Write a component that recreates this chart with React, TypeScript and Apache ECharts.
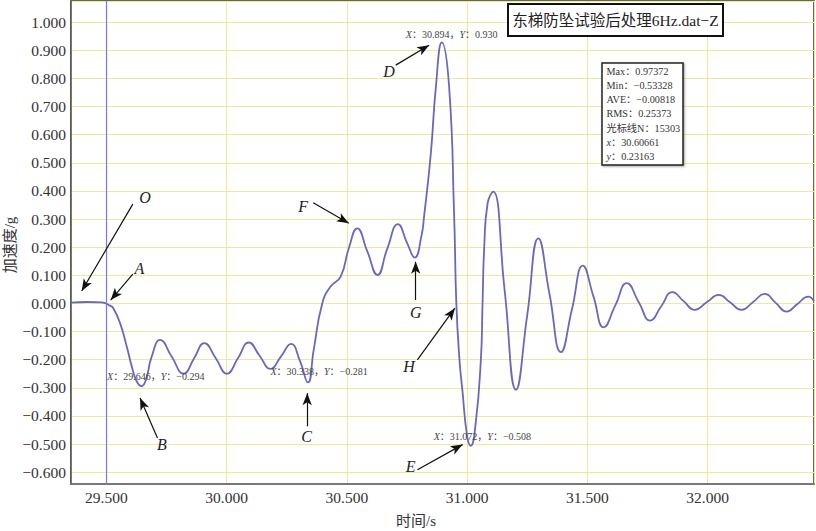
import React, { useEffect, useRef } from 'react';
import * as echarts from 'echarts';

// ---- data ----
const times = [
  29.353, 29.42, 29.48, 29.515, 29.529, 29.557, 29.585, 29.606, 29.625, 29.646,
  29.665, 29.688, 29.724, 29.772, 29.821, 29.865, 29.907, 29.955, 30.001, 30.047,
  30.092, 30.137, 30.182, 30.225, 30.268, 30.305, 30.338, 30.362, 30.3975, 30.432,
  30.474, 30.508, 30.543, 30.585, 30.627, 30.668, 30.7125, 30.75, 30.782, 30.81,
  30.821, 30.849, 30.87, 30.8945, 30.925, 30.946, 30.955, 30.968, 30.98, 31.0,
  31.015, 31.035, 31.057, 31.064, 31.071, 31.085, 31.108, 31.156, 31.203, 31.25,
  31.296, 31.343, 31.39, 31.436, 31.481, 31.525, 31.568, 31.616, 31.664, 31.713,
  31.761, 31.807, 31.853, 31.9, 31.946, 31.996, 32.046, 32.093, 32.14, 32.189,
  32.237, 32.283, 32.328, 32.373, 32.418, 32.442,
];
const values = [
  0.003, 0.005, 0.004, -0.008, -0.017, -0.07, -0.154, -0.225, -0.275, -0.294,
  -0.27, -0.19, -0.13, -0.19, -0.25, -0.195, -0.141, -0.195, -0.25, -0.195,
  -0.139, -0.186, -0.233, -0.19, -0.144, -0.205, -0.281, -0.165, 0.0, 0.06,
  0.095, 0.196, 0.267, 0.185, 0.101, 0.195, 0.282, 0.215, 0.163, 0.24,
  0.31, 0.533, 0.77, 0.928, 0.77, 0.308, 0.0, -0.2, -0.307, -0.473,
  -0.506, -0.43, -0.2, 0.0, 0.2, 0.356, 0.397, 0.045, -0.307, -0.04,
  0.231, 0.03, -0.173, -0.02, 0.134, 0.025, -0.085, -0.007, 0.072, 0.005,
  -0.061, -0.01, 0.04, 0.008, -0.023, 0.004, 0.03, 0.004, -0.023, 0.005,
  0.034, 0.002, -0.029, -0.002, 0.024, 0.008,
];

const cursorX = 29.5;

const letterNames = ['O', 'A', 'B', 'C', 'D', 'E', 'F', 'G', 'H'];
const letterPos = [
  [29.661, 0.375], [29.6375, 0.125], [29.731, -0.502], [30.332, -0.474], [30.675, 0.823],
  [30.765, -0.58], [30.318, 0.346], [30.786, -0.034], [30.758, -0.225],
];
const arrowFrom = [
  [29.61, 0.353], [29.61, 0.104], [29.7125, -0.4785], [30.335, -0.437], [30.703, 0.847],
  [30.7933, -0.591], [30.36, 0.358], [30.786, 0.012], [30.793, -0.2006],
];
const arrowTo = [
  [29.3975, 0.044], [29.518, 0.012], [29.64, -0.3365], [30.335, -0.319], [30.8417, 0.918],
  [30.981, -0.502], [30.508, 0.285], [30.786, 0.148], [30.949, -0.017],
];

const readoutX = [29.646, 30.338, 30.894, 31.072];
const readoutY = [-0.294, -0.281, 0.93, -0.508];
const readoutPos = [[29.503, -0.261], [30.182, -0.243], [30.745, 0.957], [30.861, -0.474]];

const titleText = '东梯防坠试验后处理6Hz.dat−Z';
const xName = '时间/s';
const yName = '加速度/g';
const infoLines = [
  ['Max', '0.97372'],
  ['Min', '−0.53328'],
  ['AVE', '−0.00818'],
  ['RMS', '0.25373'],
  ['光标线N', '15303'],
  ['x', '30.60661'],
  ['y', '0.23163'],
];

const FONT = "'Liberation Serif', 'Times New Roman', 'Noto Sans CJK SC', serif";

const fmt3 = (v: number) => {
  const r = Math.round(v * 1000) / 1000;
  if (Math.abs(r) < 1e-9) return '0.000';
  return (r < 0 ? '−' : '') + Math.abs(r).toFixed(3);
};

function buildOption() {
  const lineData = times.map((t, i) => [t, values[i]]);

  const arrows = arrowFrom.map((f, i) => [
    { coord: f, symbol: 'none' },
    { coord: arrowTo[i], symbol: 'arrow', symbolSize: [7, 12] },
  ]);

  const letterPoints = letterNames.map((n, i) => ({
    name: n,
    coord: letterPos[i],
    label: {
      show: true,
      position: 'inside',
      formatter: n,
      fontFamily: FONT,
      fontStyle: 'italic',
      fontSize: 16,
      color: '#222',
    },
  }));

  const readouts = readoutX.map((x, i) => ({
    name: 'r' + i,
    coord: readoutPos[i],
    label: {
      show: true,
      position: 'right',
      distance: 0,
      formatter: '{i|X}：' + x.toFixed(3) + '，{i|Y}：' + fmt3(readoutY[i]),
      fontFamily: FONT,
      fontSize: 10,
      color: '#444',
      rich: {
        i: { fontFamily: FONT, fontSize: 10, fontStyle: 'italic', color: '#444' },
      },
    },
  }));

  const infoTexts = infoLines.map((l, i) => ({
    type: 'text',
    z: 101,
    x: 606.5,
    y: 71 + i * 14.3,
    style: {
      text: l[0].length === 1 ? '{i|' + l[0] + '}：' + l[1] : l[0] + '：' + l[1],
      fontFamily: FONT,
      fontSize: 10.2,
      fill: '#333',
      align: 'left',
      verticalAlign: 'middle',
      textAlign: 'left',
      textVerticalAlign: 'middle',
      rich: { i: { fontFamily: FONT, fontSize: 10.2, fontStyle: 'italic', fill: '#333', color: '#333' } },
    },
  }));

  return {
    animation: false,
    backgroundColor: '#ffffff',
    grid: {
      left: 71,
      right: 2,
      top: 1,
      bottom: 47,
      show: true,
      borderColor: '#333',
      borderWidth: 1.5,
      backgroundColor: 'transparent',
      containLabel: false,
      outerBoundsMode: 'none',
    },
    xAxis: {
      type: 'value',
      min: 29.353,
      max: 32.442,
      minInterval: 0.5,
      maxInterval: 0.5,
      splitNumber: 6,
      axisLine: { show: true, onZero: false, lineStyle: { color: '#777', width: 2 } },
      axisTick: { show: false },
      axisLabel: {
        showMinLabel: false,
        showMaxLabel: false,
        formatter: fmt3,
        fontFamily: FONT,
        fontSize: 15.5,
        color: '#333',
        margin: 6,
      },
      splitLine: { show: true, lineStyle: { color: '#ecec98', width: 1 } },
    },
    yAxis: {
      type: 'value',
      min: -0.642,
      max: 1.075,
      minInterval: 0.1,
      maxInterval: 0.1,
      splitNumber: 17,
      axisLine: { show: true, onZero: false, lineStyle: { color: '#555', width: 1.5 } },
      axisTick: { show: false },
      axisLabel: {
        showMinLabel: false,
        showMaxLabel: false,
        formatter: fmt3,
        fontFamily: FONT,
        fontSize: 15.5,
        color: '#333',
        margin: 5,
      },
      splitLine: { show: true, lineStyle: { color: '#ecec98', width: 1 } },
    },
    series: [
      {
        type: 'line',
        data: lineData,
        smooth: 0.5,
        showSymbol: false,
        symbol: 'none',
        silent: true,
        lineStyle: { color: '#6868bd', width: 1.8 },
        z: 3,
        markLine: {
          silent: true,
          animation: false,
          symbol: ['none', 'none'],
          label: { show: false },
          lineStyle: { color: '#111', width: 1.2, type: 'solid' },
          emphasis: { disabled: true },
          data: [
            { xAxis: cursorX, lineStyle: { color: '#7a7ad8', width: 1.2, type: 'solid', opacity: 1 } },
            ...arrows,
          ],
        },
        markPoint: {
          silent: true,
          animation: false,
          symbol: 'circle',
          symbolSize: 0,
          itemStyle: { color: 'transparent' },
          data: [...letterPoints, ...readouts],
        },
      },
    ],
    graphic: [
      {
        type: 'rect',
        z: 100,
        shape: { x: 508, y: 4, width: 215, height: 32 },
        style: { fill: '#fff', stroke: '#111', lineWidth: 2 },
      },
      {
        type: 'text',
        z: 101,
        x: 615.5,
        y: 20,
        style: {
          text: titleText,
          fontFamily: FONT,
          fontSize: 15.5,
          fill: '#222',
          align: 'center',
          verticalAlign: 'middle',
          textAlign: 'center',
          textVerticalAlign: 'middle',
        },
      },
      {
        type: 'rect',
        z: 100,
        shape: { x: 602, y: 63, width: 81, height: 102 },
        style: {
          fill: '#fff',
          stroke: '#222',
          lineWidth: 1.5,
          shadowBlur: 2,
          shadowOffsetX: 1,
          shadowOffsetY: 1,
          shadowColor: 'rgba(0,0,0,0.35)',
        },
      },
      ...infoTexts,
      {
        type: 'text',
        z: 101,
        x: 416,
        y: 521,
        style: {
          text: xName,
          fontFamily: FONT,
          fontSize: 15,
          fill: '#333',
          align: 'center',
          verticalAlign: 'middle',
          textAlign: 'center',
          textVerticalAlign: 'middle',
        },
      },
      {
        type: 'text',
        z: 101,
        x: 10,
        y: 245,
        rotation: Math.PI / 2,
        style: {
          text: yName,
          fontFamily: FONT,
          fontSize: 15,
          fill: '#333',
          align: 'center',
          verticalAlign: 'middle',
          textAlign: 'center',
          textVerticalAlign: 'middle',
        },
      },
    ],
  };
}

export default function App() {
  const ref = useRef<HTMLDivElement>(null);
  useEffect(() => {
    document.body.style.margin = '0';
    if (!ref.current) return;
    const chart = echarts.init(ref.current, null, { renderer: 'svg' });
    chart.setOption(buildOption() as any);
    return () => chart.dispose();
  }, []);
  return (
    <div
      ref={ref}
      style={{ width: 816, height: 531, position: 'fixed', left: 0, top: 0, background: '#fff' }}
    />
  );
}
